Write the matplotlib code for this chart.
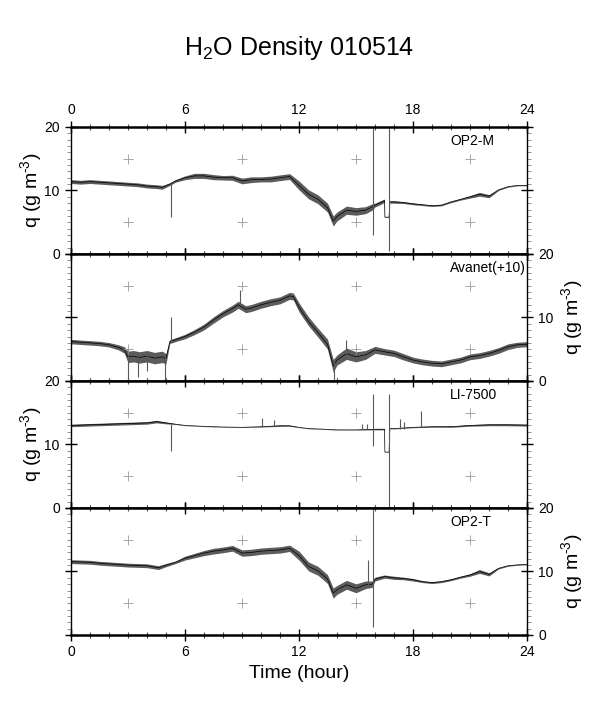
import numpy as np
import matplotlib
matplotlib.use("Agg")
import matplotlib.pyplot as plt
from matplotlib.ticker import MultipleLocator

plt.rcParams['font.family'] = ['Liberation Sans', 'DejaVu Sans']
plt.rcParams['mathtext.fontset'] = 'custom'
plt.rcParams['mathtext.rm'] = 'Liberation Sans'
plt.rcParams['mathtext.it'] = 'Liberation Sans'

# ---- data (hour, centre, half-width of noise band) ----
opm_t = [0, 0.5, 1, 1.5, 2, 2.5, 3, 3.5, 4, 4.5, 4.8, 5.2, 5.5, 6, 6.5, 7, 7.5, 8, 8.5, 9,
         9.5, 10, 10.5, 11, 11.5, 12, 12.5, 13, 13.5, 13.8, 14, 14.5, 15, 15.5, 15.85, 16.0,
         16.3, 16.5, 16.52, 16.74, 16.78, 17, 17.5, 18, 18.5, 19, 19.5, 20, 20.5, 21, 21.5,
         22, 22.5, 23, 23.5, 24]
opm_c = [11.4, 11.3, 11.4, 11.3, 11.2, 11.1, 11.0, 10.9, 10.7, 10.6, 10.5, 11.0, 11.5, 12.0,
         12.3, 12.3, 12.1, 12.0, 12.0, 11.5, 11.7, 11.75, 11.8, 12.0, 12.2, 10.8, 9.4, 8.6,
         7.3, 5.2, 5.9, 6.9, 6.7, 6.9, 7.4, 7.7, 8.1, 8.4, 5.8, 5.8, 8.2, 8.2, 8.1, 7.9, 7.75,
         7.6, 7.7, 8.2, 8.6, 9.0, 9.4, 9.1, 10.1, 10.6, 10.8, 10.8]
opm_w = [0.3, 0.3, 0.3, 0.3, 0.3, 0.3, 0.3, 0.3, 0.3, 0.3, 0.3, 0.2, 0.2, 0.3, 0.4, 0.4,
         0.4, 0.35, 0.4, 0.45, 0.45, 0.4, 0.45, 0.45, 0.45, 0.7, 0.7, 0.7, 0.7, 0.8, 0.7,
         0.65, 0.6, 0.55, 0.5, 0.3, 0.3, 0.25, 0.05, 0.05, 0.2, 0.2, 0.15, 0.15, 0.12, 0.12,
         0.12, 0.12, 0.12, 0.2, 0.3, 0.25, 0.1, 0.08, 0.06, 0.06]
opm_spk = [(5.26, 5.8, 11.0), (15.87, 3.0, 20.0), (16.76, 0.4, 20.0)]

ava_t = [0, 0.5, 1, 1.5, 2, 2.5, 2.8, 3.0, 3.3, 3.6, 4.0, 4.4, 4.8, 5.0, 5.2, 5.5, 6, 6.5,
         7, 7.5, 8, 8.5, 8.8, 9.2, 9.5, 10, 10.5, 11, 11.5, 11.7, 12, 12.5, 13, 13.5, 13.8,
         14, 14.5, 15, 15.5, 16, 16.5, 17, 17.5, 18, 18.5, 19, 19.5, 20, 20.5, 21, 21.5, 22,
         22.5, 23, 23.5, 24]
ava_c = [6.2, 6.1, 6.0, 5.9, 5.7, 5.3, 4.9, 3.8, 3.9, 3.7, 3.9, 3.6, 3.8, 3.5, 6.2, 6.5,
         7.0, 7.7, 8.5, 9.6, 10.6, 11.4, 12.0, 11.3, 11.5, 12.0, 12.4, 12.7, 13.4, 13.3, 11.6,
         9.4, 7.6, 5.8, 2.4, 3.3, 4.3, 3.8, 4.1, 4.9, 4.6, 4.35, 3.8, 3.3, 3.0, 2.8, 2.7, 3.0,
         3.3, 3.8, 4.0, 4.35, 4.8, 5.4, 5.7, 5.8]
ava_w = [0.35, 0.35, 0.35, 0.35, 0.35, 0.4, 0.5, 0.9, 0.9, 0.9, 0.9, 0.9, 0.9, 0.8, 0.3,
         0.3, 0.35, 0.4, 0.45, 0.5, 0.5, 0.55, 0.55, 0.55, 0.55, 0.55, 0.55, 0.55, 0.55, 0.55,
         0.7, 0.7, 0.7, 0.8, 1.0, 0.8, 0.9, 0.8, 0.7, 0.55, 0.5, 0.5, 0.5, 0.45, 0.45, 0.45,
         0.45, 0.45, 0.45, 0.45, 0.45, 0.45, 0.45, 0.45, 0.4, 0.4]
ava_spk = [(3.0, 0.0, 5.0), (3.55, 0.7, 4.5), (4.0, 1.5, 4.6), (4.93, 0.0, 4.0),
           (5.26, 6.2, 10.0), (8.9, 12.0, 14.3), (13.85, 0.0, 3.0), (14.45, 3.5, 6.5)]

li_t = [0, 1, 2, 3, 4, 4.5, 5, 5.5, 6, 7, 8, 9, 10, 11, 11.5, 12, 12.5, 13, 14, 15, 16,
        16.5, 16.52, 16.74, 16.78, 17, 18, 19, 20, 21, 22, 23, 24]
li_c = [13.0, 13.1, 13.2, 13.3, 13.4, 13.6, 13.4, 13.2, 13.0, 12.85, 12.75, 12.7, 12.8,
        12.95, 12.95, 12.7, 12.5, 12.45, 12.3, 12.3, 12.4, 12.4, 8.8, 8.8, 12.5, 12.5, 12.7,
        12.8, 12.8, 13.0, 13.1, 13.1, 13.05]
li_w = [0.2, 0.2, 0.2, 0.2, 0.2, 0.2, 0.15, 0.05, 0.03, 0.03, 0.03, 0.03, 0.05, 0.1, 0.08,
        0.03, 0.03, 0.03, 0.03, 0.03, 0.1, 0.1, 0.02, 0.02, 0.05, 0.05, 0.06, 0.08, 0.1,
        0.12, 0.15, 0.15, 0.15]
li_spk = [(5.26, 8.9, 13.3), (10.07, 12.8, 14.2), (10.7, 12.9, 13.9), (15.3, 12.4, 13.2),
          (15.6, 12.4, 13.3), (15.87, 9.7, 18.0), (16.76, 0.0, 17.9), (17.3, 12.5, 14.0),
          (17.5, 12.5, 13.6), (18.4, 12.7, 15.2)]

opt_t = [0, 0.5, 1, 1.5, 2, 2.5, 3, 3.5, 4, 4.6, 5, 5.5, 6, 6.5, 7, 7.5, 8, 8.5, 9, 9.5,
         10, 10.5, 11, 11.5, 12, 12.5, 13, 13.5, 13.8, 14, 14.5, 15, 15.5, 15.85, 16, 16.5,
         17, 17.5, 18, 18.5, 19, 19.5, 20, 20.5, 21, 21.5, 22, 22.5, 23, 23.5, 24]
opt_c = [11.55, 11.5, 11.45, 11.3, 11.2, 11.1, 11.0, 10.95, 10.9, 10.6, 11.0, 11.45, 12.1,
         12.5, 12.9, 13.2, 13.4, 13.65, 12.9, 13.0, 13.2, 13.3, 13.4, 13.65, 12.5, 10.8,
         10.1, 8.8, 6.6, 7.1, 7.9, 7.35, 7.9, 8.0, 8.8, 9.2, 9.0, 8.9, 8.7, 8.4, 8.25, 8.4,
         8.7, 9.1, 9.45, 10.0, 9.55, 10.5, 10.9, 11.05, 11.1]
opt_w = [0.3, 0.3, 0.3, 0.3, 0.3, 0.3, 0.3, 0.3, 0.3, 0.3, 0.25, 0.2, 0.3, 0.35, 0.4,
         0.45, 0.45, 0.45, 0.5, 0.5, 0.5, 0.5, 0.5, 0.5, 0.7, 0.7, 0.7, 0.7, 0.8, 0.7,
         0.7, 0.7, 0.6, 0.5, 0.3, 0.25, 0.25, 0.2, 0.2, 0.15, 0.15, 0.15, 0.15, 0.15, 0.2,
         0.3, 0.25, 0.1, 0.08, 0.06, 0.06]
opt_spk = [(15.65, 7.5, 11.8), (15.87, 1.3, 19.8)]

names = ["OP2-M", "Avanet(+10)", "LI-7500", "OP2-T"]
series = [(opm_t, opm_c, opm_w, opm_spk), (ava_t, ava_c, ava_w, ava_spk),
          (li_t, li_c, li_w, li_spk), (opt_t, opt_c, opt_w, opt_spk)]
cross_x = [3, 9, 15, 21]
cross_y = [5, 15]
ylab = r"q (g m$^{\text{-3}}$)"


def main():
  fig, axes = plt.subplots(4, 1, figsize=(5.98, 7.09), dpi=100, sharex=True)
  fig.subplots_adjust(left=0.1187, right=0.8813, top=0.8209, bottom=0.1044, hspace=0)

  for i, ax in enumerate(axes):
    t, c, w, spk = series[i]
    t = np.array(t); c = np.array(c); w = np.array(w)
    ax.fill_between(t, c - w, c + w, color='0.15', alpha=0.75, lw=0)
    ax.plot(t, c, color='black', lw=0.5)
    for s in spk:
      ax.vlines(s[0], s[1], s[2], color='0.35', lw=0.8)
    for cx in cross_x:
      for cy in cross_y:
        ax.plot(cx, cy, marker='+', ms=7, mew=0.6, color='0.6', ls='none')

    ax.set_xlim(0, 24)
    ax.set_ylim(0, 20)
    ax.xaxis.set_major_locator(MultipleLocator(6))
    ax.xaxis.set_minor_locator(MultipleLocator(1))
    ax.yaxis.set_major_locator(MultipleLocator(10))
    ax.yaxis.set_minor_locator(MultipleLocator(1))
    ax.tick_params(axis='x', which='major', direction='inout', length=8, width=1,
                   top=True, bottom=True, labelsize=10, labelbottom=(i == 3), labeltop=(i == 0))
    ax.tick_params(axis='x', which='minor', direction='inout', length=4, width=0.8,
                   top=True, bottom=True, color='0.3')
    ax.tick_params(axis='y', which='major', direction='inout', length=8, width=1,
                   left=True, right=True, labelsize=10, pad=4,
                   labelleft=(i % 2 == 0), labelright=(i % 2 == 1))
    ax.tick_params(axis='y', which='minor', direction='out', length=3, width=0.6,
                   left=True, right=True, color='0.5')
    for sp in ['top', 'bottom']:
      ax.spines[sp].set_linewidth(1.8)
    for sp in ['left', 'right']:
      ax.spines[sp].set_linewidth(1.0)

    if i % 2 == 1:
      ax.yaxis.set_label_position('right')
      ax.set_ylabel(ylab, fontsize=14, labelpad=4)
    else:
      ax.set_ylabel(ylab, fontsize=14, labelpad=0)
    ax.text(0.831, 0.89, names[i], transform=ax.transAxes, fontsize=10,
            ha='left', va='center')

  axes[-1].set_xlabel("Time (hour)", fontsize=14, labelpad=4)
  fig.suptitle(r"H$_2$O Density 010514", fontsize=18, y=0.932, va='center')

  fig.savefig("out.png", dpi=100)
  plt.close()


if __name__ == "__main__":
  main()
